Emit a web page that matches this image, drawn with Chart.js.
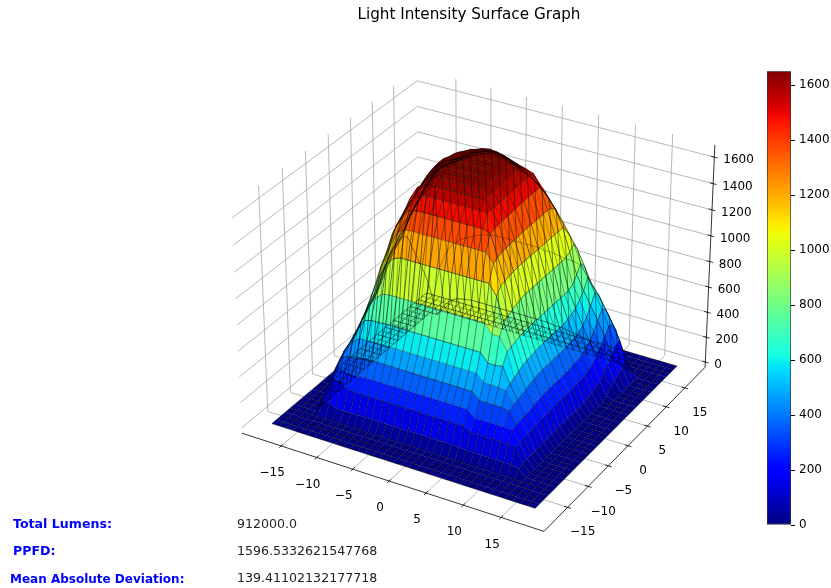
<!DOCTYPE html>
<html>
<head>
<meta charset="utf-8">
<title>Light Intensity Surface Graph</title>
<script src="https://cdn.jsdelivr.net/npm/chart.js@4"></script>
<style>
  body { margin: 0; background: #fff; font-family: "DejaVu Sans", sans-serif; }
  #page { position: relative; width: 831px; height: 588px; overflow: hidden; }
  #surfaceChart { position: absolute; left: 0; top: 0; }
  #barChart { position: absolute; left: 755px; top: 60px; }
  .stat { position: absolute; font-size: 12.6px; line-height: 16px; color: #222; white-space: nowrap; }
  .stat.name { color: #0000ff; font-weight: bold; }
</style>
</head>
<body>
<div id="page">
  <canvas id="surfaceChart" width="831" height="588"></canvas>
  <canvas id="barChart" width="76" height="480"></canvas>
  <div class="stat name" style="left:13px;top:516px">Total Lumens:</div>
  <div class="stat" style="left:237px;top:516px">912000.0</div>
  <div class="stat name" style="left:13px;top:543px">PPFD:</div>
  <div class="stat" style="left:237px;top:543px">1596.5332621547768</div>
  <div class="stat name" style="left:10px;top:571px;font-size:12px">Mean Absolute Deviation:</div>
  <div class="stat" style="left:237px;top:570px">139.41102132177718</div>
</div>
<script>
const titleText = 'Light Intensity Surface Graph';
const xTicks = [-15, -10, -5, 0, 5, 10, 15];
const yTicks = [-15, -10, -5, 0, 5, 10, 15];
const zTicks = [0, 200, 400, 600, 800, 1000, 1200, 1400, 1600];
const xLimit = 20.6;
const zLimits = [-42, 1692];
const zMax = 1651;

const xGrid = [-18,-17,-16,-15,-14,-13,-12,-11,-10,-9,-8,-7,-6,-5,-4,-3,-2,-1,0,1,2,3,4,5,6,7,8,9,10,11,12,13,14,15,16,17,18];
const yGrid = [-18,-17,-16,-15,-14,-13,-12,-11,-10,-9,-8,-7,-6,-5,-4,-3,-2,-1,0,1,2,3,4,5,6,7,8,9,10,11,12,13,14,15,16,17,18];

// one row per y, left to right in x
const intensity = [
  [0,0,0,0,0,0,0,0,0,0,0,0,0,0,0,0,0,0,0,0,0,0,0,0,0,0,0,0,0,0,0,0,0,0,0,0,0],
  [0,0,0,0,0,0,0,0,0,0,0,0,0,0,0,0,0,0,0,0,0,0,0,0,0,0,0,0,0,0,0,0,0,0,0,0,0],
  [0,0,0,0,0,0,0,0,0,0,0,0,0,0,0,0,0,0,0,0,0,0,0,0,0,0,0,0,0,0,0,0,0,0,0,0,0],
  [0,0,0,0,0,0,0,0,0,0,0,0,0,0,0,0,0,0,0,0,0,0,0,0,0,0,0,0,0,0,0,0,0,0,0,0,0],
  [0,0,0,0,0,0,0,0,0,0,0,0,0,0,0,0,0,0,0,0,0,0,0,0,0,0,0,0,0,0,0,0,0,0,0,0,0],
  [0,0,0,0,100,100,70,70,70,75,75,75,75,75,75,75,75,75,75,75,75,75,75,75,65,65,65,65,65,65,65,50,0,0,0,0,0],
  [0,0,0,0,150,250,250,210,205,205,205,205,205,205,205,205,205,205,205,205,205,205,205,205,175,175,175,175,175,175,170,60,0,0,0,0,0],
  [0,0,0,0,200,320,300,290,300,305,305,305,305,305,305,305,305,305,305,305,305,305,305,305,255,255,255,255,255,250,170,65,0,0,0,0,0],
  [0,0,0,0,260,370,390,390,410,415,415,415,415,415,415,415,415,415,415,415,415,415,415,415,360,360,360,360,350,260,175,65,0,0,0,0,0],
  [0,0,0,0,300,400,480,520,520,525,525,525,525,525,525,525,525,525,525,525,525,525,525,525,470,470,470,460,370,265,180,65,0,0,0,0,0],
  [0,0,0,0,340,430,540,630,650,650,655,655,655,655,655,655,655,655,655,655,655,655,655,655,590,590,600,480,375,270,180,65,0,0,0,0,0],
  [0,0,0,0,360,470,590,730,790,840,850,850,850,850,850,850,850,850,850,850,850,850,850,850,780,780,680,500,385,275,185,70,0,0,0,0,0],
  [0,0,0,0,370,500,630,790,930,1040,1100,1120,1120,1120,1120,1120,1120,1120,1120,1120,1120,1120,1120,1120,1040,860,690,520,395,285,190,70,0,0,0,0,0],
  [0,0,0,0,400,540,680,860,1020,1170,1270,1305,1310,1310,1310,1310,1310,1310,1310,1310,1310,1310,1310,1240,1090,880,700,535,410,290,195,70,0,0,0,0,0],
  [0,0,0,0,450,580,710,940,1090,1250,1360,1420,1435,1440,1440,1440,1440,1440,1440,1440,1440,1440,1420,1260,1100,900,710,545,420,295,195,70,0,0,0,0,0],
  [0,0,0,0,480,610,770,970,1170,1290,1400,1490,1520,1530,1530,1530,1530,1530,1530,1530,1530,1530,1430,1270,1110,910,715,550,425,300,200,70,0,0,0,0,0],
  [0,0,0,0,520,640,830,1030,1210,1320,1450,1545,1580,1590,1590,1590,1590,1590,1590,1590,1590,1530,1435,1275,1115,920,720,555,430,300,200,70,0,0,0,0,0],
  [0,0,0,0,560,700,880,1060,1225,1345,1445,1535,1605,1620,1625,1628,1628,1628,1628,1628,1590,1530,1440,1280,1120,930,720,560,430,300,200,70,0,0,0,0,0],
  [0,0,0,0,590,780,930,1090,1260,1370,1460,1560,1625,1635,1640,1645,1648,1648,1645,1628,1592,1532,1442,1282,1120,930,720,560,430,300,200,70,0,0,0,0,0],
  [0,0,0,0,640,830,960,1120,1280,1400,1500,1590,1635,1642,1646,1650,1650,1650,1646,1630,1595,1535,1445,1285,1120,930,720,560,430,300,200,70,0,0,0,0,0],
  [0,0,0,0,700,870,1000,1140,1290,1420,1520,1600,1638,1645,1648,1650,1650,1650,1648,1632,1598,1538,1448,1288,1120,930,720,560,430,300,200,70,0,0,0,0,0],
  [0,0,0,0,750,900,1020,1160,1300,1430,1530,1605,1640,1646,1650,1650,1650,1650,1648,1634,1600,1540,1450,1290,1120,930,720,560,430,305,205,80,0,0,0,0,0],
  [0,0,0,0,800,920,1060,1180,1310,1440,1530,1605,1640,1646,1650,1650,1650,1650,1648,1635,1602,1542,1452,1290,1120,930,720,560,430,310,205,80,0,0,0,0,0],
  [0,0,0,0,830,960,1100,1210,1330,1450,1530,1590,1635,1645,1650,1650,1650,1650,1648,1635,1604,1544,1454,1290,1120,930,720,560,435,315,210,85,0,0,0,0,0],
  [0,0,0,0,850,1030,1150,1250,1350,1460,1520,1550,1620,1645,1650,1650,1650,1650,1648,1635,1606,1546,1455,1290,1120,930,720,570,445,325,225,100,0,0,0,0,0],
  [0,0,0,0,820,1060,1170,1280,1370,1450,1500,1530,1590,1630,1645,1650,1650,1645,1640,1620,1600,1550,1455,1290,1120,930,720,585,460,345,240,120,20,0,0,0,0],
  [0,0,0,0,720,1085,1200,1315,1380,1430,1480,1515,1560,1595,1625,1635,1630,1615,1595,1575,1560,1540,1450,1290,1120,930,725,600,480,370,280,150,60,0,0,0,0],
  [0,0,0,0,620,1105,1220,1330,1380,1415,1460,1505,1540,1565,1585,1590,1580,1565,1545,1520,1500,1465,1400,1280,1120,930,740,640,520,420,320,190,80,0,0,0,0],
  [0,0,0,0,520,1115,1230,1325,1370,1400,1445,1480,1515,1540,1555,1555,1540,1510,1490,1460,1425,1375,1320,1245,1120,950,790,680,580,480,370,240,100,0,0,0,0],
  [0,0,0,0,420,1120,1230,1310,1355,1385,1425,1460,1490,1510,1515,1510,1495,1465,1435,1400,1365,1315,1240,1155,1070,985,850,760,650,540,420,280,130,0,0,0,0],
  [0,0,0,0,300,1100,1200,1280,1330,1370,1400,1430,1455,1470,1470,1455,1430,1400,1380,1350,1300,1245,1170,1090,1000,915,800,680,610,510,410,300,150,0,0,0,0],
  [0,0,0,0,150,430,570,650,700,730,760,780,800,810,810,810,810,810,810,810,800,800,790,780,780,760,680,600,520,430,330,190,80,0,0,0,0],
  [0,0,0,0,0,90,150,180,190,200,200,200,200,200,200,200,200,200,200,200,200,190,190,180,170,160,150,120,100,70,40,10,0,0,0,0,0],
  [0,0,0,0,0,0,0,0,0,0,0,0,0,0,0,0,0,0,0,0,0,0,0,0,0,0,0,0,0,0,0,0,0,0,0,0,0],
  [0,0,0,0,0,0,0,0,0,0,0,0,0,0,0,0,0,0,0,0,0,0,0,0,0,0,0,0,0,0,0,0,0,0,0,0,0],
  [0,0,0,0,0,0,0,0,0,0,0,0,0,0,0,0,0,0,0,0,0,0,0,0,0,0,0,0,0,0,0,0,0,0,0,0,0],
  [0,0,0,0,0,0,0,0,0,0,0,0,0,0,0,0,0,0,0,0,0,0,0,0,0,0,0,0,0,0,0,0,0,0,0,0,0]
];

// jet colormap knots
const jetRed = [[0, 0], [0.35, 0], [0.66, 1], [0.89, 1], [1, 0.5]];
const jetGreen = [[0, 0], [0.125, 0], [0.375, 1], [0.64, 1], [0.91, 0], [1, 0]];
const jetBlue = [[0, 0.5], [0.11, 1], [0.34, 1], [0.65, 0], [1, 0]];

function knot(stops, t) {
  for (let i = 1; i < stops.length; i++) {
    if (t <= stops[i][0]) {
      const a = stops[i - 1], b = stops[i];
      return a[1] + (b[1] - a[1]) * (t - a[0]) / (b[0] - a[0]);
    }
  }
  return stops[stops.length - 1][1];
}

function jet(t) {
  t = Math.max(0, Math.min(1, t));
  const r = Math.round(255 * knot(jetRed, t));
  const g = Math.round(255 * knot(jetGreen, t));
  const b = Math.round(255 * knot(jetBlue, t));
  return `rgb(${r},${g},${b})`;
}

// same view as a 3d axes at elev 30, azim -60, camera distance 10
const boxHalf = 0.5714, boxHalfZ = 0.4286, camDist = 10;
const viewU = [0.866, 0.5, 0];
const viewV = [-0.25, 0.433, 0.866];
const viewW = [0.433, -0.75, 0.5];

function project(x, y, z) {
  const dx = x / xLimit * boxHalf;
  const dy = y / xLimit * boxHalf;
  const dz = ((z - zLimits[0]) / (zLimits[1] - zLimits[0]) - 0.5) * 2 * boxHalfZ;
  const xc = dx * viewU[0] + dy * viewU[1] + dz * viewU[2];
  const yc = dx * viewV[0] + dy * viewV[1] + dz * viewV[2];
  const zc = dx * viewW[0] + dy * viewW[1] + dz * viewW[2];
  const depth = camDist - zc;
  return { x: xc / depth, y: yc / depth, depth: depth };
}

// x, y scale ranges so the whole canvas is the projection plane
const pxPerUnit = 3030, centerX = 477.6, centerY = 289.5;
const planeX = [(0 - centerX) / pxPerUnit, (831 - centerX) / pxPerUnit];
const planeY = [(centerY - 588) / pxPerUnit, centerY / pxPerUnit];

const zLow = zLimits[0], zHigh = zLimits[1], L = xLimit;
const gap = { x: NaN, y: NaN };

function segments(list) {
  const pts = [];
  list.forEach(s => {
    pts.push(project(s[0], s[1], s[2]), project(s[3], s[4], s[5]), gap);
  });
  return pts;
}

const gridSegs = [];
xTicks.forEach(t => {
  gridSegs.push([t, -L, zLow, t, L, zLow], [t, L, zLow, t, L, zHigh]);
});
yTicks.forEach(t => {
  gridSegs.push([-L, t, zLow, L, t, zLow], [-L, t, zLow, -L, t, zHigh]);
});
zTicks.forEach(t => {
  gridSegs.push([-L, -L, t, -L, L, t], [-L, L, t, L, L, t]);
});

const tickSize = 0.45;
const axisSegs = [
  [-L, -L, zLow, L, -L, zLow],
  [L, -L, zLow, L, L, zLow],
  [L, L, zLow, L, L, zHigh]
];
xTicks.forEach(t => axisSegs.push([t, -L - tickSize, zLow, t, -L + tickSize, zLow]));
yTicks.forEach(t => axisSegs.push([L - tickSize, t, zLow, L + tickSize, t, zLow]));
zTicks.forEach(t => axisSegs.push([L - tickSize, L, t, L + tickSize, L, t]));

// every vertex of the surface, row after row
const surfacePoints = [];
intensity.forEach((row, j) => {
  row.forEach((z, i) => surfacePoints.push(project(xGrid[i], yGrid[j], z)));
});

const columns = xGrid.length;
const quads = [];
for (let j = 0; j < yGrid.length - 1; j++) {
  for (let i = 0; i < columns - 1; i++) {
    const ids = [j * columns + i, j * columns + i + 1, (j + 1) * columns + i + 1, (j + 1) * columns + i];
    const avgZ = (intensity[j][i] + intensity[j][i + 1] + intensity[j + 1][i + 1] + intensity[j + 1][i]) / 4;
    const avgDepth = ids.reduce((sum, id) => sum + surfacePoints[id].depth, 0) / 4;
    quads.push({ ids: ids, z: avgZ, depth: avgDepth });
  }
}
quads.sort((a, b) => b.depth - a.depth);

const surfacePlugin = {
  id: 'surfacePlugin',
  afterDatasetsDraw(chart) {
    const ctx = chart.ctx;
    const verts = chart.getDatasetMeta(2).data;
    ctx.save();
    ctx.lineJoin = 'round';
    // faces, farthest first
    quads.forEach(q => {
      ctx.beginPath();
      q.ids.forEach((id, k) => {
        if (k === 0) ctx.moveTo(verts[id].x, verts[id].y);
        else ctx.lineTo(verts[id].x, verts[id].y);
      });
      ctx.closePath();
      ctx.fillStyle = jet(q.z / zMax);
      ctx.fill();
    });
    // wireframe goes over everything, so back lines show through
    ctx.lineWidth = 0.6;
    for (let j = 0; j < yGrid.length; j++) {
      ctx.strokeStyle = j % 2 === 0 ? 'rgba(0,0,0,0.85)' : 'rgba(0,0,0,0.5)';
      ctx.beginPath();
      for (let i = 0; i < columns; i++) {
        const v = verts[j * columns + i];
        if (i === 0) ctx.moveTo(v.x, v.y);
        else ctx.lineTo(v.x, v.y);
      }
      ctx.stroke();
    }
    ctx.strokeStyle = 'rgba(0,0,0,0.75)';
    for (let i = 0; i < columns; i++) {
      ctx.beginPath();
      for (let j = 0; j < yGrid.length; j++) {
        const v = verts[j * columns + i];
        if (j === 0) ctx.moveTo(v.x, v.y);
        else ctx.lineTo(v.x, v.y);
      }
      ctx.stroke();
    }
    ctx.restore();
  }
};

const labelPlugin = {
  id: 'labelPlugin',
  afterDraw(chart) {
    const ctx = chart.ctx;
    const sx = chart.scales.x, sy = chart.scales.y;
    const put = (text, p, dx, dy, align) => {
      ctx.textAlign = align;
      ctx.fillText(text, sx.getPixelForValue(p.x) + dx, sy.getPixelForValue(p.y) + dy);
    };
    const label = t => String(t).replace('-', '\u2212');
    ctx.save();
    ctx.fillStyle = '#000';
    ctx.textBaseline = 'middle';
    ctx.font = '12px "DejaVu Sans"';
    xTicks.forEach(t => put(label(t), project(t, -L, zLow), -9, 27, 'center'));
    yTicks.forEach(t => put(label(t), project(L, t, zLow), 15, 25, 'center'));
    zTicks.forEach(t => put(String(t), project(L, L, t), 9, 3, 'left'));
    ctx.font = '15.2px "DejaVu Sans"';
    ctx.textAlign = 'center';
    ctx.fillText(titleText, 469, 15);
    ctx.restore();
  }
};

new Chart(document.getElementById('surfaceChart'), {
  type: 'scatter',
  data: {
    datasets: [
      { data: segments(gridSegs), showLine: true, borderColor: '#b0b0b0', borderWidth: 0.9, pointRadius: 0, order: 2 },
      { data: segments(axisSegs), showLine: true, borderColor: '#000', borderWidth: 0.8, pointRadius: 0, order: 1 },
      { data: surfacePoints, showLine: false, pointRadius: 0, order: 0 }
    ]
  },
  options: {
    responsive: false,
    animation: false,
    devicePixelRatio: 1,
    layout: { padding: 0 },
    events: [],
    scales: {
      x: { type: 'linear', display: false, min: planeX[0], max: planeX[1] },
      y: { type: 'linear', display: false, min: planeY[0], max: planeY[1] }
    },
    plugins: { legend: { display: false }, tooltip: { enabled: false } }
  },
  plugins: [surfacePlugin, labelPlugin]
});

// colour bar
function jetGradient(context) {
  const chart = context.chart;
  const area = chart.chartArea;
  if (!area) return '#000';
  const grad = chart.ctx.createLinearGradient(0, area.bottom, 0, area.top);
  for (let s = 0; s <= 64; s++) grad.addColorStop(s / 64, jet(s / 64));
  return grad;
}

new Chart(document.getElementById('barChart'), {
  type: 'bar',
  data: {
    labels: ['intensity'],
    datasets: [{
      data: [zMax],
      backgroundColor: jetGradient,
      borderColor: '#333',
      borderWidth: 1,
      borderSkipped: false,
      barPercentage: 1,
      categoryPercentage: 1
    }]
  },
  options: {
    responsive: false,
    animation: false,
    devicePixelRatio: 1,
    events: [],
    layout: { padding: { left: 12, top: 10, bottom: 15, right: 0 } },
    scales: {
      x: { display: false },
      y: {
        position: 'right',
        min: 0,
        max: zMax,
        afterFit: s => { s.width = 40; },
        afterBuildTicks: s => { s.ticks = zTicks.map(v => ({ value: v })); },
        grid: { drawOnChartArea: false, drawTicks: true, tickLength: 4, color: '#000' },
        border: { display: false },
        ticks: { color: '#000', padding: 4, font: { family: 'DejaVu Sans', size: 12 }, callback: v => String(v) }
      }
    },
    plugins: { legend: { display: false }, tooltip: { enabled: false } }
  }
});
</script>
</body>
</html>
